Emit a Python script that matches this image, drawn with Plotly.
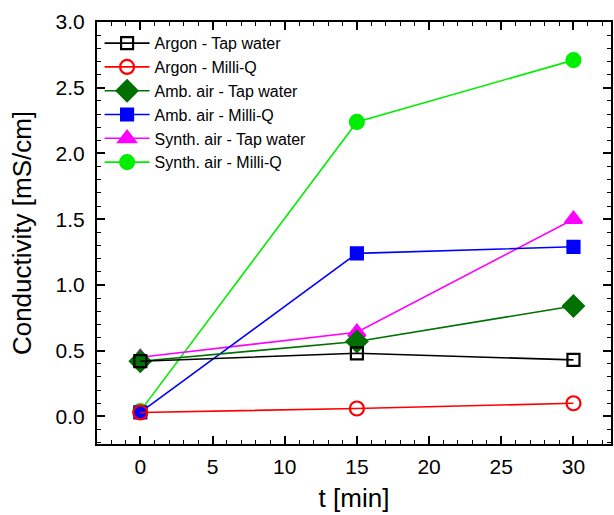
import plotly.graph_objects as go

# Sampling times [min]
times = [0, 15, 30]

# Conductivity [mS/cm] for each gas / water combination
argon_tap = [0.42, 0.48, 0.43]
argon_milliq = [0.03, 0.06, 0.10]
amb_tap = [0.42, 0.57, 0.84]
amb_milliq = [0.03, 1.24, 1.29]
synth_tap = [0.45, 0.64, 1.50]
synth_milliq = [0.04, 2.24, 2.71]

series = [
    ("Argon - Tap water", argon_tap, "black", "square-open", 12),
    ("Argon - Milli-Q", argon_milliq, "red", "circle-open", 14),
    ("Amb. air - Tap water", amb_tap, "#007000", "diamond", 16),
    ("Amb. air - Milli-Q", amb_milliq, "blue", "square", 12),
    ("Synth. air - Tap water", synth_tap, "#ff00ff", "triangle-up", 15),
    ("Synth. air - Milli-Q", synth_milliq, "#00ee00", "circle", 14),
]

FONT = "Arial"

fig = go.Figure()
# draw the last series first so the earlier ones sit on top; legend keeps listed order
for rank, (name, vals, color, symbol, size) in reversed(list(enumerate(series))):
    fig.add_trace(go.Scatter(
        x=times, y=vals, name=name, mode="lines+markers", legendrank=rank + 1,
        line=dict(color=color, width=1.6),
        marker=dict(symbol=symbol, size=size, color=color,
                    line=dict(color=color, width=2.2)),
    ))

axis_common = dict(
    showline=True, linecolor="black", linewidth=2, mirror="ticks",
    ticks="inside", tickcolor="black", tickwidth=1.5, ticklen=8,
    showgrid=False, zeroline=False,
    tickfont=dict(family=FONT, size=21, color="black"),
)

fig.update_layout(
    width=614, height=515,
    margin=dict(l=97, r=1, t=22, b=71),
    paper_bgcolor="white", plot_bgcolor="white",
    font=dict(family=FONT, color="black"),
    xaxis=dict(
        range=[-3, 32.6], tickvals=[0, 5, 10, 15, 20, 25, 30],
        ticklabelstandoff=3,
        minor=dict(dtick=1, ticks="inside", ticklen=4, tickcolor="black", tickwidth=1.2),
        title=dict(text="t [min]", font=dict(family=FONT, size=26), standoff=12),
        **axis_common,
    ),
    yaxis=dict(
        range=[-0.21, 3.0], tickvals=[0, 0.5, 1.0, 1.5, 2.0, 2.5, 3.0],
        tickformat=".1f", ticklabelstandoff=6,
        minor=dict(dtick=0.1, ticks="inside", ticklen=4, tickcolor="black", tickwidth=1.2),
        title=dict(text="Conductivity [mS/cm]", font=dict(family=FONT, size=26), standoff=16),
        **axis_common,
    ),
    legend=dict(
        x=0.005, y=0.99, xanchor="left", yanchor="top",
        bgcolor="rgba(0,0,0,0)", borderwidth=0,
        font=dict(family=FONT, size=16, color="black"),
        tracegroupgap=0, itemsizing="trace", itemwidth=45,
    ),
)

fig.write_html("out.html")
